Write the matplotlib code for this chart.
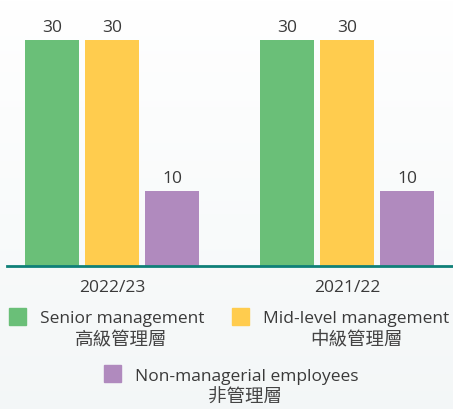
import matplotlib
matplotlib.use("Agg")
import matplotlib.pyplot as plt
import numpy as np
from matplotlib.patches import Rectangle

# ---- data ----
periods = ["2022/23", "2021/22"]
series_en = ["Senior management", "Mid-level management", "Non-managerial employees"]
series_zh = ["高級管理層", "中級管理層", "非管理層"]
values = {
    "Senior management": [30, 30],
    "Mid-level management": [30, 30],
    "Non-managerial employees": [10, 10],
}
colors = ["#6abf78", "#ffcc4e", "#b08abe"]

FONT = ["Open Sans", "Noto Sans CJK TC", "DejaVu Sans"]
plt.rcParams["font.family"] = FONT
TXT = "#3a3a3a"

W, H = 453, 409
fig = plt.figure(figsize=(W / 100, H / 100), dpi=100)

# subtle background gradient
bg = fig.add_axes([0, 0, 1, 1], zorder=-10)
grad = np.linspace(0, 1, 256).reshape(-1, 1)
c_top = np.array([1.0, 1.0, 1.0])
c_bot = np.array([0.955, 0.968, 0.970])
img = c_top[None, None, :] * (1 - grad[..., None]) + c_bot[None, None, :] * grad[..., None]
bg.imshow(img, aspect="auto", extent=[0, 1, 0, 1])
bg.axis("off")

def fx(px):
    return px / W

def fy(py):
    return 1 - py / H

# main axes: x pixel 7..453, y pixel 0..266
ax = fig.add_axes([fx(7), fy(266), fx(453) - fx(7), 266 / H])
ax.set_facecolor("none")

unit = 60.0  # pixels per x-unit
group_pos = np.array([0.0, 235.0 / unit])
bw = 54.0 / unit
offs = np.array([-1, 0, 1]) * (60.0 / unit)

for i, s in enumerate(series_en):
    xs = group_pos + offs[i]
    bars = ax.bar(xs, values[s], width=bw, color=colors[i], zorder=2)
    for b, v in zip(bars, values[s]):
        ax.annotate(f"{v}", (b.get_x() + b.get_width() / 2, v),
                    xytext=(0, 3), textcoords="offset points",
                    ha="center", va="bottom", fontsize=12.5, color=TXT)

ax.set_xlim((7 - 112) / unit, (453 - 112) / unit)
ax.set_ylim(0, 266 / (226 / 30))
for sp in ["top", "right", "left"]:
    ax.spines[sp].set_visible(False)
ax.spines["bottom"].set_color("#0f8078")
ax.spines["bottom"].set_linewidth(2)
ax.set_yticks([])
ax.set_xticks(group_pos)
ax.set_xticklabels(periods, fontsize=12.5, color=TXT)
ax.tick_params(axis="x", length=0, pad=10)

# legend (manual)
sq = 17
legend_items = [
    (9, 308, 40, 323, 121, 340),
    (232, 308, 263, 323, 356, 340),
    (104, 365, 135, 381, 245, 398),
]
for i, (sx, sy, tx, ty, cx, cy) in enumerate(legend_items):
    fig.add_artist(Rectangle((fx(sx), fy(sy + sq)), sq / W, sq / H,
                             transform=fig.transFigure, color=colors[i]))
    fig.text(fx(tx), fy(ty), series_en[i], ha="left", va="baseline",
             fontsize=12.5, color=TXT)
    fig.text(fx(cx), fy(cy), series_zh[i], ha="center", va="center",
             fontsize=13.3, color="#444444")

fig.savefig("out.png", dpi=100)
